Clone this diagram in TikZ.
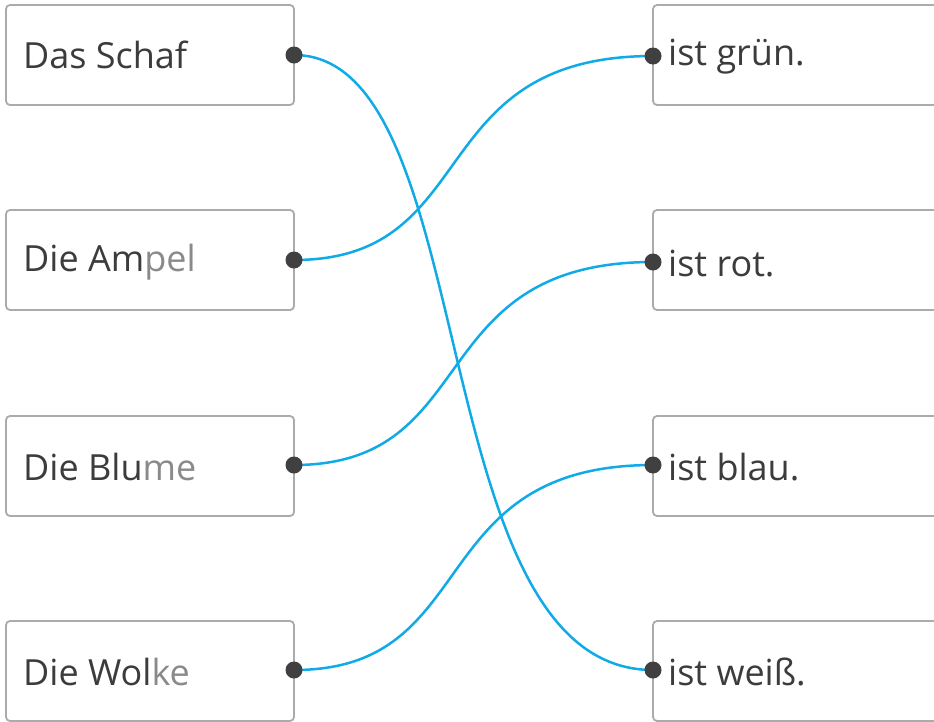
\documentclass[tikz,border=0pt]{standalone}
\usepackage{fontspec}
\setmainfont{Open Sans}
\definecolor{txt}{HTML}{3C3C3C}
\definecolor{lite}{HTML}{8A8A8A}
\definecolor{frame}{HTML}{ABABAB}
\definecolor{wire}{HTML}{10AAE6}
\definecolor{dotc}{HTML}{404040}
\tikzset{
  card/.style={draw=frame, line width=1.8pt, rounded corners=4pt, fill=white, minimum width=288pt, minimum height=100pt, inner sep=0pt},
  lbl/.style={anchor=west, text=txt, font=\fontsize{36pt}{40pt}\selectfont, inner sep=0pt},
  pin/.style={circle, fill=dotc, minimum size=17pt, inner sep=0pt},
  link/.style={draw=wire, line width=2.5pt}
}
\begin{document}
\begin{tikzpicture}[x=1pt,y=-1pt]
\useasboundingbox (0,0) rectangle (934,721);
\clip (0,0) rectangle (934,721);
% left cards
\node[card] (L1) at (150,55) {};
\node[card] (L2) at (150,260) {};
\node[card] (L3) at (150,466) {};
\node[card] (L4) at (150,671) {};
% right cards
\node[card] (R1) at (797,55) {};
\node[card] (R2) at (797,260) {};
\node[card] (R3) at (797,466) {};
\node[card] (R4) at (797,671) {};
% texts
\node[lbl] (t1) at (23,55) {Das Schaf};
\node[lbl] (t2) at (23,262) {Die Am\textcolor{lite}{pel}};
\node[lbl] (t3) at (23,467) {Die Blu\textcolor{lite}{me}};
\node[lbl] (t4) at (23,672) {Die Wol\textcolor{lite}{ke}};
\node[lbl] (u1) at (668,57) {ist grün.};
\node[lbl] (u2) at (668,264) {ist rot.};
\node[lbl] (u3) at (668,467) {ist blau.};
\node[lbl] (u4) at (668,672) {ist weiß.};
% links
\coordinate (a1) at (294,55);
\coordinate (a2) at (294,260);
\coordinate (a3) at (294,465);
\coordinate (a4) at (294,670);
\coordinate (b1) at (653,56);
\coordinate (b2) at (653,262);
\coordinate (b3) at (653,465);
\coordinate (b4) at (653,670);
\draw[link] (a1) .. controls (484,55) and (421,670) .. (b4);
\draw[link] (a2) .. controls (484,260) and (421,56) .. (b1);
\draw[link] (a3) .. controls (484,465) and (421,262) .. (b2);
\draw[link] (a4) .. controls (484,670) and (421,465) .. (b3);
% pins
\node[pin] (p1) at (a1) {};
\node[pin] (p2) at (a2) {};
\node[pin] (p3) at (a3) {};
\node[pin] (p4) at (a4) {};
\node[pin] (q1) at (b1) {};
\node[pin] (q2) at (b2) {};
\node[pin] (q3) at (b3) {};
\node[pin] (q4) at (b4) {};
\end{tikzpicture}
\end{document}
